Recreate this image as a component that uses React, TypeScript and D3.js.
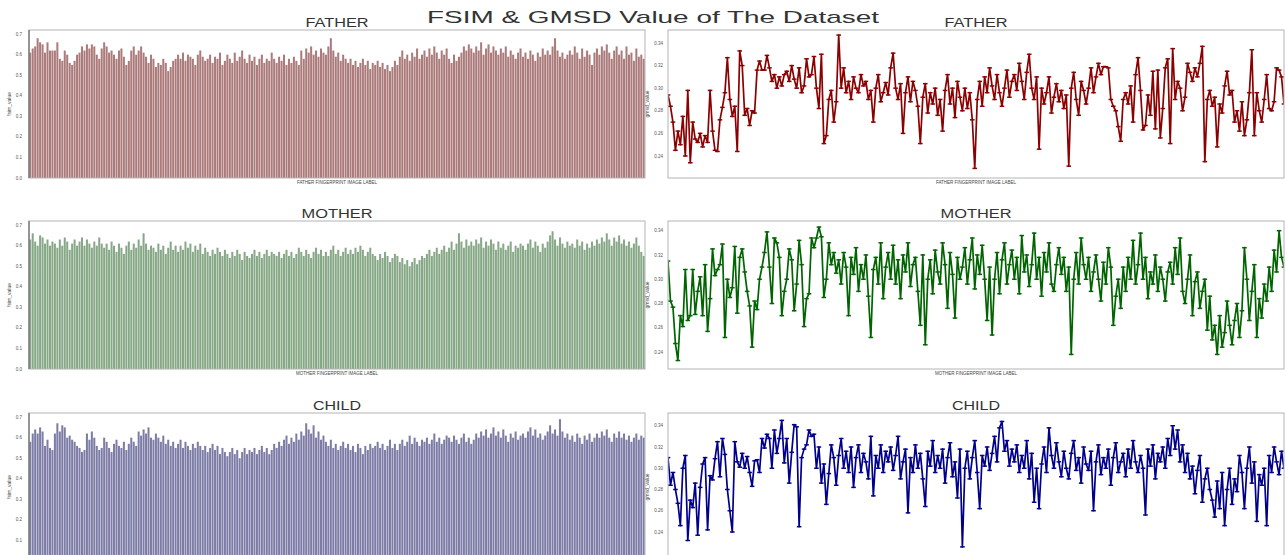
import React from "react";
import * as d3 from "d3";

// fsim values, one per fingerprint image (left column)
const fatherFsim = [
  0.61,0.63,0.64,0.68,0.66,0.65,0.61,0.66,0.62,0.62, 0.62,0.66,0.58,0.57,0.62,0.60,0.56,0.55,0.57,0.60,
  0.61,0.64,0.62,0.65,0.63,0.65,0.64,0.60,0.58,0.63, 0.66,0.64,0.61,0.62,0.60,0.58,0.62,0.63,0.59,0.55,
  0.57,0.62,0.64,0.60,0.62,0.64,0.61,0.59,0.56,0.60, 0.58,0.54,0.56,0.55,0.58,0.56,0.52,0.54,0.57,0.58,
  0.60,0.58,0.61,0.57,0.60,0.59,0.58,0.55,0.60,0.62, 0.59,0.57,0.58,0.60,0.56,0.59,0.58,0.61,0.55,0.57,
  0.60,0.58,0.56,0.61,0.57,0.59,0.62,0.58,0.56,0.60, 0.57,0.59,0.55,0.58,0.60,0.56,0.58,0.57,0.61,0.58,
  0.56,0.59,0.57,0.60,0.55,0.58,0.56,0.59,0.57,0.55, 0.62,0.58,0.63,0.61,0.64,0.60,0.62,0.59,0.63,0.61,
  0.60,0.64,0.68,0.62,0.59,0.61,0.57,0.60,0.58,0.56, 0.58,0.55,0.57,0.54,0.56,0.58,0.55,0.57,0.53,0.56,
  0.55,0.57,0.54,0.56,0.53,0.55,0.52,0.54,0.57,0.55, 0.59,0.62,0.58,0.60,0.57,0.61,0.59,0.63,0.58,0.60,
  0.62,0.59,0.63,0.60,0.64,0.61,0.58,0.62,0.60,0.63, 0.58,0.56,0.60,0.57,0.59,0.61,0.64,0.62,0.65,0.63,
  0.61,0.64,0.62,0.66,0.60,0.63,0.65,0.61,0.64,0.62, 0.60,0.63,0.61,0.64,0.59,0.62,0.60,0.58,0.61,0.63,
  0.59,0.61,0.58,0.62,0.60,0.57,0.61,0.59,0.63,0.60, 0.62,0.60,0.64,0.68,0.62,0.59,0.61,0.58,0.60,0.62,
  0.60,0.64,0.61,0.58,0.63,0.59,0.62,0.60,0.55,0.61, 0.63,0.60,0.64,0.62,0.65,0.61,0.58,0.62,0.64,0.60,
  0.62,0.58,0.64,0.60,0.61,0.57,0.63,0.59,0.60,0.58,
];

const motherFsim = [
  0.63,0.66,0.62,0.60,0.65,0.64,0.61,0.63,0.60,0.62, 0.61,0.59,0.63,0.60,0.64,0.62,0.58,0.61,0.63,0.60,
  0.62,0.64,0.60,0.63,0.61,0.59,0.62,0.60,0.64,0.61, 0.59,0.61,0.58,0.62,0.60,0.57,0.61,0.59,0.56,0.60,
  0.62,0.58,0.61,0.59,0.63,0.60,0.66,0.61,0.58,0.60, 0.59,0.57,0.61,0.58,0.60,0.56,0.59,0.62,0.58,0.60,
  0.57,0.60,0.58,0.62,0.59,0.61,0.57,0.60,0.58,0.61, 0.56,0.59,0.57,0.55,0.58,0.56,0.59,0.57,0.55,0.58,
  0.56,0.54,0.57,0.55,0.58,0.56,0.53,0.57,0.55,0.54, 0.56,0.58,0.55,0.57,0.54,0.56,0.58,0.55,0.57,0.56,
  0.55,0.57,0.54,0.56,0.58,0.55,0.57,0.54,0.56,0.59, 0.57,0.55,0.58,0.56,0.54,0.57,0.59,0.56,0.58,0.55,
  0.57,0.55,0.58,0.60,0.56,0.58,0.55,0.57,0.59,0.56, 0.58,0.56,0.59,0.57,0.60,0.58,0.55,0.57,0.59,0.56,
  0.55,0.53,0.56,0.54,0.57,0.55,0.52,0.54,0.56,0.55, 0.52,0.54,0.51,0.53,0.50,0.52,0.54,0.51,0.53,0.55,
  0.54,0.56,0.58,0.55,0.57,0.59,0.56,0.58,0.60,0.57, 0.59,0.62,0.58,0.61,0.66,0.62,0.59,0.63,0.60,0.62,
  0.60,0.63,0.61,0.64,0.59,0.62,0.60,0.63,0.61,0.58, 0.62,0.59,0.61,0.58,0.60,0.62,0.57,0.60,0.59,0.61,
  0.60,0.58,0.61,0.63,0.59,0.62,0.60,0.57,0.61,0.59, 0.62,0.65,0.67,0.63,0.60,0.64,0.61,0.59,0.62,0.60,
  0.61,0.59,0.63,0.60,0.62,0.58,0.61,0.59,0.62,0.60, 0.63,0.61,0.64,0.62,0.66,0.63,0.60,0.64,0.62,0.65,
  0.61,0.63,0.60,0.62,0.59,0.61,0.64,0.60,0.57,0.55,
];

const childFsim = [
  0.58,0.62,0.64,0.62,0.65,0.63,0.56,0.59,0.55,0.54, 0.62,0.67,0.63,0.66,0.65,0.60,0.61,0.59,0.58,0.56,
  0.55,0.53,0.54,0.62,0.59,0.63,0.60,0.56,0.54,0.55, 0.60,0.58,0.55,0.53,0.57,0.59,0.56,0.55,0.58,0.54,
  0.57,0.60,0.58,0.56,0.63,0.61,0.64,0.62,0.65,0.60, 0.59,0.62,0.60,0.58,0.61,0.57,0.59,0.56,0.58,0.55,
  0.57,0.59,0.55,0.58,0.56,0.54,0.57,0.55,0.58,0.56, 0.54,0.56,0.53,0.55,0.57,0.54,0.56,0.52,0.55,0.53,
  0.51,0.53,0.55,0.52,0.54,0.50,0.53,0.55,0.52,0.54, 0.53,0.55,0.52,0.54,0.56,0.53,0.55,0.52,0.54,0.57,
  0.55,0.58,0.56,0.59,0.61,0.57,0.60,0.58,0.62,0.59, 0.63,0.61,0.67,0.64,0.62,0.66,0.60,0.63,0.59,0.61,
  0.58,0.56,0.59,0.55,0.57,0.54,0.56,0.58,0.55,0.57, 0.54,0.56,0.53,0.57,0.55,0.52,0.56,0.54,0.57,0.55,
  0.56,0.58,0.55,0.57,0.54,0.56,0.59,0.55,0.57,0.54, 0.57,0.59,0.56,0.58,0.61,0.57,0.60,0.58,0.56,0.59,
  0.58,0.60,0.57,0.59,0.62,0.58,0.60,0.57,0.59,0.61, 0.60,0.58,0.61,0.59,0.57,0.60,0.62,0.58,0.60,0.57,
  0.59,0.62,0.60,0.63,0.61,0.64,0.60,0.62,0.65,0.61, 0.63,0.60,0.64,0.61,0.58,0.62,0.60,0.63,0.59,0.61,
  0.62,0.60,0.63,0.65,0.61,0.64,0.60,0.62,0.59,0.61, 0.63,0.66,0.62,0.64,0.61,0.69,0.63,0.60,0.62,0.59,
  0.61,0.58,0.62,0.60,0.57,0.61,0.59,0.62,0.58,0.60, 0.62,0.60,0.63,0.61,0.64,0.60,0.58,0.62,0.60,0.63,
  0.60,0.62,0.59,0.61,0.58,0.60,0.62,0.59,0.61,0.60,
];

// gmsd values (right column)
const fatherGmsd = [
  0.294,0.284,0.270,0.245,0.262,0.250,0.275,0.240,0.298,0.234, 0.270,0.255,0.252,0.260,0.248,0.258,0.252,0.298,0.262,0.245,
  0.244,0.272,0.283,0.296,0.327,0.290,0.275,0.284,0.244,0.333, 0.320,0.276,0.282,0.267,0.280,0.278,0.316,0.324,0.316,0.316,
  0.329,0.318,0.306,0.312,0.300,0.310,0.302,0.312,0.315,0.306, 0.320,0.308,0.300,0.318,0.296,0.302,0.326,0.310,0.312,0.328,
  0.300,0.282,0.330,0.251,0.258,0.290,0.298,0.270,0.288,0.347, 0.300,0.318,0.296,0.306,0.290,0.310,0.300,0.296,0.312,0.302,
  0.306,0.290,0.298,0.270,0.300,0.312,0.288,0.296,0.305,0.294, 0.318,0.331,0.300,0.290,0.304,0.260,0.296,0.310,0.288,0.306,
  0.298,0.284,0.251,0.292,0.304,0.278,0.296,0.286,0.300,0.276, 0.290,0.262,0.298,0.312,0.286,0.300,0.274,0.306,0.292,0.280,
  0.300,0.282,0.296,0.272,0.229,0.290,0.306,0.284,0.310,0.296, 0.318,0.302,0.290,0.312,0.296,0.284,0.300,0.316,0.292,0.306,
  0.312,0.298,0.322,0.306,0.290,0.314,0.330,0.300,0.290,0.310, 0.246,0.300,0.286,0.296,0.310,0.278,0.292,0.304,0.288,0.298,
  0.282,0.294,0.231,0.300,0.314,0.290,0.276,0.306,0.298,0.286, 0.300,0.318,0.296,0.310,0.322,0.312,0.319,0.319,0.318,0.290,
  0.284,0.280,0.266,0.253,0.290,0.296,0.286,0.302,0.270,0.312, 0.327,0.298,0.263,0.267,0.294,0.276,0.315,0.264,0.316,0.256,
  0.282,0.318,0.326,0.251,0.335,0.290,0.306,0.300,0.280,0.292, 0.322,0.314,0.306,0.318,0.310,0.322,0.337,0.235,0.290,0.298,
  0.284,0.292,0.248,0.286,0.278,0.302,0.315,0.294,0.298,0.270, 0.280,0.262,0.288,0.258,0.272,0.296,0.334,0.258,0.296,0.280,
  0.270,0.290,0.312,0.282,0.280,0.288,0.318,0.316,0.310,0.286,
];

const motherGmsd = [
  0.315,0.282,0.277,0.247,0.233,0.270,0.261,0.308,0.266,0.270, 0.308,0.271,0.290,0.302,0.270,0.312,0.257,0.284,0.325,0.303,
  0.308,0.312,0.329,0.252,0.300,0.285,0.293,0.327,0.272,0.318, 0.325,0.306,0.290,0.278,0.244,0.282,0.275,0.300,0.310,0.322,
  0.339,0.310,0.280,0.334,0.330,0.318,0.270,0.290,0.300,0.325, 0.316,0.274,0.296,0.332,0.312,0.261,0.284,0.288,0.334,0.326,
  0.334,0.343,0.335,0.285,0.300,0.330,0.312,0.322,0.305,0.316, 0.296,0.322,0.310,0.270,0.318,0.304,0.326,0.290,0.312,0.300,
  0.320,0.286,0.252,0.308,0.318,0.296,0.330,0.284,0.310,0.322, 0.300,0.328,0.296,0.316,0.284,0.320,0.306,0.330,0.294,0.312,
  0.318,0.290,0.262,0.320,0.246,0.300,0.316,0.288,0.324,0.306, 0.296,0.330,0.312,0.276,0.322,0.304,0.268,0.318,0.300,0.310,
  0.326,0.296,0.316,0.334,0.292,0.320,0.304,0.328,0.300,0.266, 0.310,0.254,0.300,0.322,0.288,0.316,0.330,0.296,0.312,0.324,
  0.300,0.318,0.288,0.336,0.306,0.320,0.294,0.312,0.338,0.300, 0.318,0.286,0.322,0.306,0.330,0.296,0.290,0.312,0.326,0.304,
  0.318,0.290,0.310,0.238,0.300,0.322,0.296,0.334,0.312,0.300, 0.318,0.290,0.306,0.320,0.300,0.282,0.314,0.296,0.326,0.310,
  0.262,0.286,0.300,0.276,0.310,0.290,0.318,0.300,0.332,0.296, 0.312,0.338,0.300,0.318,0.284,0.306,0.296,0.320,0.290,0.310,
  0.300,0.282,0.306,0.314,0.296,0.326,0.304,0.334,0.290,0.280, 0.300,0.320,0.270,0.298,0.306,0.276,0.290,0.300,0.258,0.286,
  0.250,0.262,0.238,0.270,0.244,0.256,0.282,0.262,0.246,0.266, 0.280,0.252,0.274,0.326,0.300,0.266,0.290,0.312,0.252,0.284,
  0.268,0.296,0.282,0.310,0.290,0.324,0.306,0.340,0.318,0.310,
];

const childGmsd = [
  0.310,0.284,0.296,0.280,0.267,0.246,0.300,0.312,0.232,0.270, 0.263,0.286,0.237,0.282,0.304,0.310,0.242,0.293,0.289,0.309,
  0.325,0.292,0.328,0.313,0.280,0.260,0.240,0.325,0.306,0.301, 0.314,0.300,0.311,0.296,0.283,0.307,0.308,0.296,0.328,0.319,
  0.332,0.328,0.300,0.336,0.314,0.328,0.345,0.305,0.328,0.286, 0.315,0.341,0.339,0.245,0.310,0.318,0.322,0.336,0.330,0.332,
  0.300,0.320,0.286,0.304,0.266,0.295,0.322,0.310,0.284,0.312, 0.328,0.300,0.316,0.296,0.320,0.282,0.310,0.322,0.296,0.314,
  0.306,0.290,0.330,0.274,0.312,0.300,0.322,0.296,0.316,0.306, 0.320,0.298,0.312,0.330,0.290,0.306,0.318,0.258,0.310,0.296,
  0.322,0.300,0.314,0.290,0.264,0.316,0.302,0.326,0.296,0.312, 0.300,0.318,0.286,0.310,0.324,0.292,0.306,0.272,0.318,0.226,
  0.300,0.316,0.290,0.310,0.326,0.296,0.262,0.312,0.302,0.320, 0.298,0.314,0.330,0.306,0.338,0.344,0.316,0.326,0.302,0.318,
  0.306,0.322,0.296,0.312,0.300,0.326,0.290,0.314,0.268,0.300, 0.262,0.304,0.320,0.296,0.338,0.312,0.300,0.324,0.306,0.292,
  0.316,0.300,0.290,0.314,0.326,0.298,0.310,0.286,0.320,0.304, 0.298,0.316,0.260,0.306,0.322,0.294,0.310,0.300,0.318,0.284,
  0.310,0.324,0.296,0.306,0.314,0.292,0.318,0.300,0.326,0.306, 0.296,0.312,0.300,0.256,0.318,0.302,0.322,0.290,0.314,0.306,
  0.320,0.300,0.328,0.312,0.340,0.318,0.336,0.306,0.322,0.296, 0.314,0.290,0.302,0.276,0.298,0.312,0.268,0.290,0.300,0.280,
  0.270,0.254,0.288,0.262,0.296,0.246,0.280,0.300,0.266,0.290, 0.278,0.312,0.296,0.262,0.300,0.320,0.286,0.306,0.250,0.294,
  0.284,0.300,0.246,0.312,0.296,0.320,0.306,0.294,0.316,0.300,
];

const fsimTicks = [0.0, 0.1, 0.2, 0.3, 0.4, 0.5, 0.6, 0.7];
const gmsdTicks = [0.24, 0.26, 0.28, 0.3, 0.32, 0.34];
const gmsdTicksChild = [0.22, 0.24, 0.26, 0.28, 0.3, 0.32, 0.34];

const rows = [
  { name: "FATHER", fsim: fatherFsim, gmsd: fatherGmsd, top: 30, gDomain: [0.2205, 0.3515], gTicks: gmsdTicks,
    bar: "#ab7a7a", line: "#8b0000", tw: 63, xlabel: "FATHER FINGERPRINT IMAGE LABEL" },
  { name: "MOTHER", fsim: motherFsim, gmsd: motherGmsd, top: 221, gDomain: [0.226, 0.348], gTicks: gmsdTicks,
    bar: "#86a886", line: "#006400", tw: 71, xlabel: "MOTHER FINGERPRINT IMAGE LABEL" },
  { name: "CHILD", fsim: childFsim, gmsd: childGmsd, top: 413, gDomain: [0.2127, 0.352], gTicks: gmsdTicksChild,
    bar: "#7c7ca6", line: "#00008b", tw: 48, xlabel: "CHILD FINGERPRINT IMAGE LABEL" },
];

const W = 1286, H = 555;
const PH = 148;
const leftX = [29, 645];
const rightX = [668, 1284];
const font = "Liberation Sans, Arial, sans-serif";

function BarPanel({ row }) {
  const x = d3.scaleBand<number>().domain(d3.range(row.fsim.length)).range(leftX).paddingInner(0.18).paddingOuter(0.1);
  const y = d3.scaleLinear().domain([0, 0.72]).range([row.top + PH, row.top]);
  const cx = (leftX[0] + leftX[1]) / 2;
  return (
    <g>
      {row.fsim.map((v, i) => (
        <rect key={i} x={x(i)} y={y(v)} width={x.bandwidth()} height={y(0) - y(v)} fill={row.bar} />
      ))}
      <rect x={leftX[0]} y={row.top} width={leftX[1] - leftX[0]} height={PH} fill="none" stroke="#b4b4b4" strokeWidth={1} />
      <line x1={leftX[0]} x2={leftX[0]} y1={row.top} y2={row.top + PH} stroke="#666" strokeWidth={1.2} />
      {fsimTicks.filter((t) => y(t) < H - 2).map((t) => (
        <text key={t} x={leftX[0] - 7} y={y(t)} dy="0.35em" textAnchor="end" fontSize={4.5} fill="#555" fontFamily={font}>
          {t.toFixed(1)}
        </text>
      ))}
      <text transform={`translate(11,${row.top + PH / 2}) rotate(-90)`} textAnchor="middle" fontSize={5} fill="#444" fontFamily={font}>
        fsim_value
      </text>
      <text x={cx} y={row.top - 3} textAnchor="middle" fontSize={12} fill="#333" fontFamily={font}
        textLength={row.tw} lengthAdjust="spacingAndGlyphs">{row.name}</text>
      {row.top + PH + 6 < H && (
        <text x={cx} y={row.top + PH + 6} textAnchor="middle" fontSize={4.5} fill="#444" fontFamily={font}>{row.xlabel}</text>
      )}
    </g>
  );
}

function LinePanel({ row }) {
  const x = d3.scalePoint<number>().domain(d3.range(row.gmsd.length)).range(rightX).padding(0);
  const y = d3.scaleLinear().domain(row.gDomain).range([row.top + PH, row.top]);
  const path = d3.line<number>().x((d, i) => x(i)).y((d) => y(d))(row.gmsd);
  const cx = (rightX[0] + rightX[1]) / 2;
  return (
    <g>
      <defs>
        <clipPath id={`clip-${row.name}`}>
          <rect x={rightX[0]} y={row.top} width={rightX[1] - rightX[0]} height={PH} />
        </clipPath>
      </defs>
      <g clipPath={`url(#clip-${row.name})`}>
        <path d={path} fill="none" stroke={row.line} strokeWidth={1.7} strokeLinejoin="round" />
        {row.gmsd.map((v, i) => (
          <line key={i} x1={x(i) - 2.3} x2={x(i) + 2.3} y1={y(v)} y2={y(v)} stroke={row.line} strokeWidth={1.5} />
        ))}
      </g>
      <rect x={rightX[0]} y={row.top} width={rightX[1] - rightX[0]} height={PH} fill="none" stroke="#b4b4b4" strokeWidth={1} />
      {row.gTicks.filter((t) => y(t) < H - 2).map((t) => (
        <text key={t} x={rightX[0] - 5} y={y(t)} dy="0.35em" textAnchor="end" fontSize={4.5} fill="#555" fontFamily={font}>
          {t.toFixed(2)}
        </text>
      ))}
      <text transform={`translate(649,${row.top + PH / 2}) rotate(-90)`} textAnchor="middle" fontSize={5} fill="#444" fontFamily={font}>
        gmsd_value
      </text>
      <text x={cx} y={row.top - 3} textAnchor="middle" fontSize={12} fill="#333" fontFamily={font}
        textLength={row.tw} lengthAdjust="spacingAndGlyphs">{row.name}</text>
      {row.top + PH + 6 < H && (
        <text x={cx} y={row.top + PH + 6} textAnchor="middle" fontSize={4.5} fill="#444" fontFamily={font}>{row.xlabel}</text>
      )}
    </g>
  );
}

export default function App() {
  return (
    <svg width={W} height={H} style={{ position: "absolute", left: 0, top: 0, background: "#fff" }}>
      <rect width={W} height={H} fill="#fff" />
      <text x={653} y={23} textAnchor="middle" fontSize={17} fill="#333" fontFamily={font}
        textLength={452} lengthAdjust="spacingAndGlyphs">FSIM &amp; GMSD  Value of The Dataset</text>
      {rows.map((r) => (
        <g key={r.name}>
          <BarPanel row={r} />
          <LinePanel row={r} />
        </g>
      ))}
    </svg>
  );
}
